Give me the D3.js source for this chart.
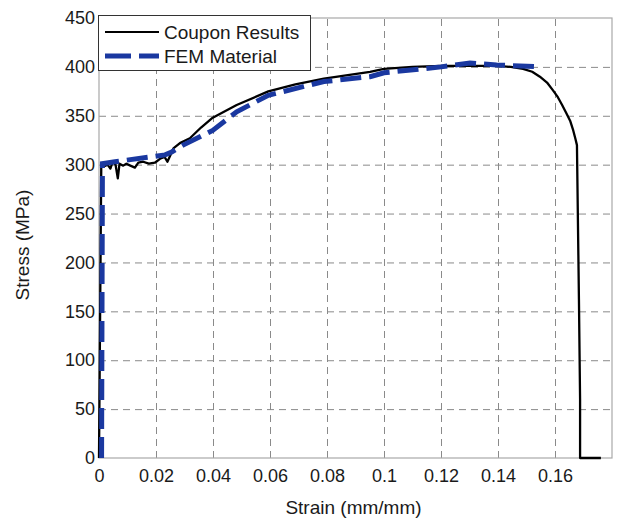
<!doctype html>
<html>
<head>
<meta charset="utf-8">
<title>Stress strain</title>
<script src="https://d3js.org/d3.v7.min.js"></script>
<style>
  body { margin: 0; background: #fff; }
  text { font-family: "Liberation Sans", Arial, sans-serif; fill: #1a1a1a; }
  .grid line { stroke: #8a8a8a; stroke-dasharray: 7,5; stroke-width: 1; }
  .grid .domain { display: none; }
</style>
</head>
<body>
<svg width="623" height="519"></svg>
<script>
// strain (mm/mm), stress (MPa)
var couponStrain = [0, 0.0008, 0.0015, 0.003, 0.004, 0.0048, 0.0058, 0.0066, 0.0072, 0.0085, 0.0096, 0.011, 0.0126, 0.0138, 0.0155, 0.0175, 0.0196, 0.0214, 0.023, 0.024, 0.0262, 0.0284, 0.0319, 0.0358, 0.0399, 0.0483, 0.0594, 0.0689, 0.0789, 0.0951, 0.1, 0.11, 0.12, 0.1395, 0.1445, 0.1488, 0.152, 0.1547, 0.1572, 0.1593, 0.161, 0.1625, 0.1639, 0.1653, 0.1664, 0.1672, 0.1677, 0.1684, 0.1688, 0.1688, 0.1761];
var couponStress = [0, 301, 298, 300, 296, 303, 300, 286, 301, 299, 301, 299, 297, 302, 303, 301, 302, 306, 308, 303, 317, 322, 327, 338, 348, 361, 375, 382, 388, 395, 398, 400, 401, 401, 400, 398, 395, 390, 384, 376, 369, 361, 353, 345, 335, 326, 320, 162, 60, 0, 0];

var femStrain = [0.0009, 0.0012, 0.0056, 0.0232, 0.0255, 0.0295, 0.0399, 0.0483, 0.0594, 0.0789, 0.0951, 0.1, 0.12, 0.1302, 0.1395, 0.1554];
var femStress = [0, 301, 303, 310, 313, 320, 335, 354, 371, 385, 390, 394, 400, 404, 402, 400];

var xTicks = [0, 0.02, 0.04, 0.06, 0.08, 0.1, 0.12, 0.14, 0.16];
var xTickLabels = ["0", "0.02", "0.04", "0.06", "0.08", "0.1", "0.12", "0.14", "0.16"];
var yTicks = [0, 50, 100, 150, 200, 250, 300, 350, 400, 450];
var yTickLabels = ["0", "50", "100", "150", "200", "250", "300", "350", "400", "450"];

var seriesNames = ["Coupon Results", "FEM Material"];

var svg = d3.select("svg"),
    pLeft = 99, pRight = 612, pTop = 18, pBottom = 458;

var x = d3.scaleLinear().domain([0, 0.18]).range([pLeft, pRight]),
    y = d3.scaleLinear().domain([0, 450]).range([pBottom, pTop]);

// grid
svg.append("g")
    .attr("class", "grid")
    .attr("transform", "translate(0," + pBottom + ")")
    .call(d3.axisBottom(x).tickValues(xTicks.slice(1)).tickSize(-(pBottom - pTop)).tickFormat(""));
svg.append("g")
    .attr("class", "grid")
    .attr("transform", "translate(" + pLeft + ",0)")
    .call(d3.axisLeft(y).tickValues(yTicks.slice(1, -1)).tickSize(-(pRight - pLeft)).tickFormat(""));

// frame
svg.append("rect")
    .attr("x", pLeft).attr("y", pTop)
    .attr("width", pRight - pLeft).attr("height", pBottom - pTop)
    .attr("fill", "none").attr("stroke", "#a8a8a8").attr("stroke-width", 1.2);

// axes labels
var xAxis = svg.append("g")
    .attr("transform", "translate(0," + pBottom + ")")
    .call(d3.axisBottom(x).tickValues(xTicks).tickSize(0).tickPadding(11)
      .tickFormat(function(d, i) { return xTickLabels[i]; }));
xAxis.select(".domain").remove();
xAxis.selectAll("text").style("font-size", "18px").style("font-family", "Liberation Sans, Arial, sans-serif").attr("fill", "#1a1a1a");

var yAxis = svg.append("g")
    .attr("transform", "translate(" + pLeft + ",0)")
    .call(d3.axisLeft(y).tickValues(yTicks).tickSize(0).tickPadding(4)
      .tickFormat(function(d, i) { return yTickLabels[i]; }));
yAxis.select(".domain").remove();
yAxis.selectAll("text").style("font-size", "18px").style("font-family", "Liberation Sans, Arial, sans-serif").attr("fill", "#1a1a1a");

svg.append("text")
    .attr("x", (pLeft + pRight) / 2 - 2).attr("y", 514)
    .attr("text-anchor", "middle")
    .style("font-size", "19px")
    .text("Strain (mm/mm)");

svg.append("text")
    .attr("transform", "translate(29,245) rotate(-90)")
    .attr("text-anchor", "middle")
    .style("font-size", "19px")
    .text("Stress (MPa)");

// curves
var line = d3.line()
    .x(function(d) { return x(d[0]); })
    .y(function(d) { return y(d[1]); });

var coupon = d3.zip(couponStrain, couponStress),
    fem = d3.zip(femStrain, femStress);

svg.append("path")
    .datum(coupon)
    .attr("d", line)
    .attr("fill", "none")
    .attr("stroke", "#000")
    .attr("stroke-width", 2.3)
    .attr("stroke-linejoin", "round");

svg.append("path")
    .datum(fem)
    .attr("d", line)
    .attr("fill", "none")
    .attr("stroke", "#1a38a0")
    .attr("stroke-width", 5)
    .attr("stroke-dasharray", "21,8");

// legend
var lg = svg.append("g");
lg.append("rect")
    .attr("x", 98.5).attr("y", 15.5)
    .attr("width", 212).attr("height", 55)
    .attr("fill", "#fff").attr("stroke", "#333").attr("stroke-width", 1);
lg.append("line")
    .attr("x1", 105).attr("x2", 159).attr("y1", 32).attr("y2", 32)
    .attr("stroke", "#000").attr("stroke-width", 2);
lg.append("line")
    .attr("x1", 105).attr("x2", 159).attr("y1", 56).attr("y2", 56)
    .attr("stroke", "#1a38a0").attr("stroke-width", 5).attr("stroke-dasharray", "26,8");
lg.selectAll("text.lab")
    .data(seriesNames)
    .enter().append("text")
    .attr("class", "lab")
    .attr("x", 164)
    .attr("y", function(d, i) { return 39 + i * 24; })
    .style("font-size", "19px")
    .text(function(d) { return d; });
</script>
</body>
</html>
